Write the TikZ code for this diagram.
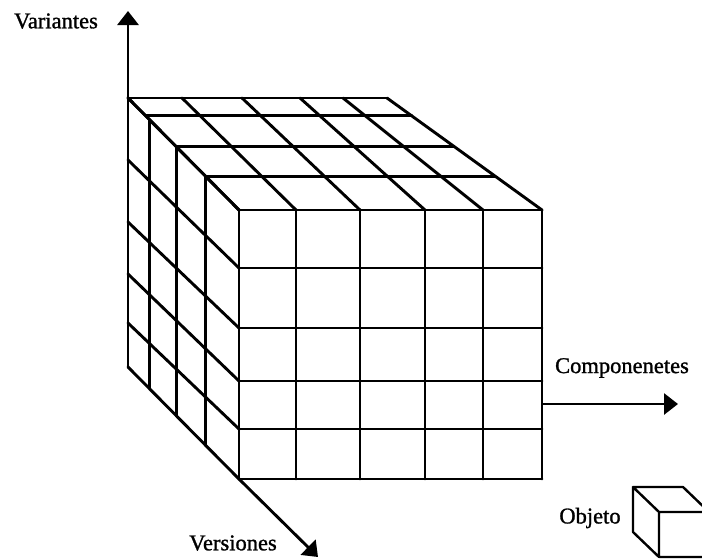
\documentclass[tikz,border=0pt]{standalone}
\usepackage{fontspec}
\setmainfont{Liberation Serif}
\newfontfamily\labfont{Liberation Serif}[BoldFont={Liberation Serif},BoldFeatures={FakeBold=1.2}]
\usetikzlibrary{arrows.meta}
\begin{document}
\begin{tikzpicture}[x=1pt,y=-1pt,
  grid/.style={line width=2.9pt,line join=round,line cap=round},
  axis/.style={line width=2.9pt,-{Triangle[length=14pt,width=21pt]}},
  lab/.style={font=\labfont\bfseries\fontsize{22.5}{26}\selectfont,inner sep=0pt}]
\useasboundingbox (0,0) rectangle (702,558);
% top face: depth lines of the columns
\foreach \b/\f in {128/239,182/296,242/360,300/425,343/483,387/542}
  \draw[grid] (\b,98) -- (\f,210);
% top face: lines across at each depth
\foreach \t in {0,0.16,0.43,0.70,1}
  \draw[grid] ({128+111*\t},{98+112*\t}) -- ({387+155*\t},{98+112*\t});
% left face: verticals at each depth
\foreach \t in {0,0.19,0.44,0.70,1}
  \draw[grid] ({128+111*\t},{98+112*\t}) -- ({128+111*\t},{367+112*\t});
% left face: row lines
\foreach \b/\f in {98/210,160/268,222/328,274/381,323/429,367/479}
  \draw[grid] (128,\b) -- (239,\f);
% front face
\foreach \x in {239,296,360,425,483,542}
  \draw[grid] (\x,210) -- (\x,479);
\foreach \y in {210,268,328,381,429,479}
  \draw[grid] (239,\y) -- (542,\y);
% axes
\coordinate (o) at (128,98);
\coordinate (vtip) at (128,11);
\coordinate (cstart) at (542,404);
\coordinate (ctip) at (678,404);
\coordinate (fbl) at (239,479);
\coordinate (vertip) at (318,557);
\draw[axis] (o) -- (vtip);
\draw[axis] (cstart) -- (ctip);
\draw[axis] (fbl) -- (vertip);
% labels
\node[lab] (lvar) at (56,21) {Variantes};
\node[lab] (lcomp) at (622,368) {Componenetes};
\node[lab] (lver) at (233,543) {Versiones};
\node[lab] (lobj) at (590,518) {Objeto};
% small object cube
\begin{scope}
\clip (0,0) rectangle (702,558);
\draw[line width=2.4pt,line join=round]
  (659,512) -- (633,487) -- (683,487) -- (709,512) -- cycle
  (633,487) -- (633,532) -- (659,557) -- (659,512)
  (659,557) -- (709,557) -- (709,512);
\end{scope}
\end{tikzpicture}
\end{document}
